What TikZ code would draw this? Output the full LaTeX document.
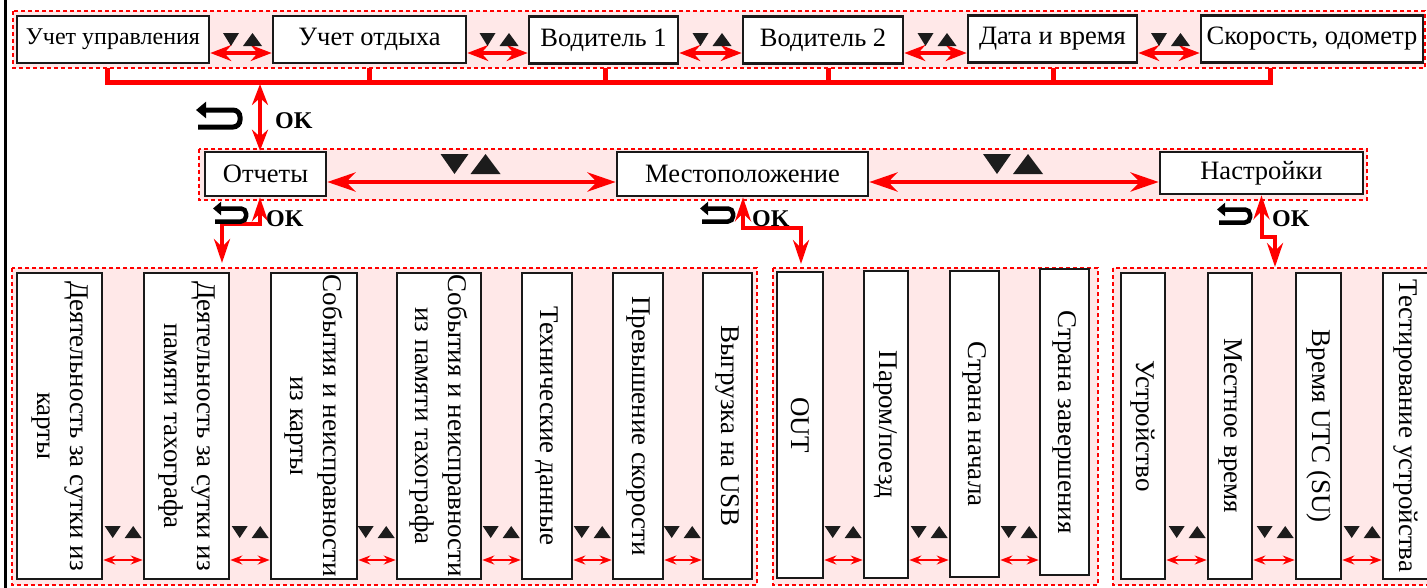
\documentclass[tikz,border=0pt]{standalone}
\usepackage{fontspec}
\setmainfont{Liberation Serif}
\usetikzlibrary{arrows.meta,calc}
\definecolor{grpfill}{RGB}{255,232,232}
\definecolor{tri}{RGB}{28,28,28}
\tikzset{
 grp/.style={draw=red, dash pattern=on 4pt off 3pt, line width=1.1pt, fill=grpfill},
 hbox/.style={draw=black!90, line width=2.6pt, fill=white, inner sep=0pt, font=\fontsize{26.5}{30}\selectfont},
 vbox/.style={draw=black!90, line width=2.6pt, fill=white, inner sep=0pt},
 vtext/.style={rotate=-90, align=center, inner sep=0pt, font=\fontsize{27}{33}\selectfont},
 oktext/.style={inner sep=0pt, font=\bfseries\fontsize{24}{28}\selectfont},
 bus/.style={draw=red, line width=5pt, line join=miter},
 arrT/.style={draw=red, line width=3.5pt, {Stealth[length=21pt,width=16pt,inset=7pt]}-{Stealth[length=21pt,width=16pt,inset=7pt]}},
 arrM/.style={draw=red, line width=4.5pt, {Stealth[length=28pt,width=19pt,inset=9pt]}-{Stealth[length=28pt,width=19pt,inset=9pt]}},
 arrZ/.style={draw=red, line width=4pt, line join=miter, {Stealth[length=24pt,width=16pt,inset=8pt]}-{Stealth[length=24pt,width=16pt,inset=8pt]}},
 arrS/.style={draw=red, line width=2pt, {Stealth[length=12pt,width=9pt,inset=4pt]}-{Stealth[length=12pt,width=9pt,inset=4pt]}},
 retbig/.pic={\draw[line width=5pt, rounded corners=7pt, -{Triangle[length=10pt,width=16pt]}] (-22,8.5) -- (20,8.5) -- (20,-8.5) -- (-24,-8.5);},
 retsmall/.pic={\draw[line width=4.5pt, rounded corners=5pt, -{Triangle[length=8pt,width=13pt]}] (-16,6.5) -- (15,6.5) -- (15,-6.5) -- (-18,-6.5);},
 tripT/.pic={\fill[tri] (-18,0) -- (-2,0) -- (-10,13) -- cycle; \fill[tri] (2,13) -- (21,13) -- (11.5,0) -- cycle;},
 tripM/.pic={\fill[tri] (-31,0) -- (-3,0) -- (-17,20) -- cycle; \fill[tri] (-1,20) -- (29,20) -- (14,0) -- cycle;},
 tripS/.pic={\fill[tri] (-18,0) -- (-2,0) -- (-10,12) -- cycle; \fill[tri] (2,12) -- (19,12) -- (10.5,0) -- cycle;},
}
\begin{document}
\begin{tikzpicture}[x=1pt,y=-1pt]
\useasboundingbox (0,0) rectangle (1427,587);
\clip (0,0) rectangle (1427,587);
\fill[white] (0,0) rectangle (1427,587);
\draw[line width=3.5pt] (5.5,-2) -- (5.5,590);

% group frames
\draw[grp] (13,11) rectangle (1425,68);
\draw[grp] (199,149) rectangle (1367,200);
\draw[grp] (12,268) rectangle (757,585);
\draw[grp] (773,268) rectangle (1098,585);
\draw[grp] (1113,268) rectangle (1440,585);

% top row
\node[hbox, minimum width=192, minimum height=47, font=\fontsize{24}{28}\selectfont] (t1) at (113,39.5) {Учет управления};
\node[hbox, minimum width=193, minimum height=47] (t2) at (369.5,39.5) {Учет отдыха};
\node[hbox, minimum width=149, minimum height=47] (t3) at (603.5,40) {Водитель 1};
\node[hbox, minimum width=160, minimum height=47] (t4) at (823,40) {Водитель 2};
\node[hbox, minimum width=169, minimum height=47] (t5) at (1052.5,39) {Дата и время};
\node[hbox, minimum width=222, minimum height=47] (t6) at (1312,39) {Скорость, одометр};

\foreach \a/\b in {t1/t2,t2/t3,t3/t4,t4/t5,t5/t6}{
  \draw[arrT] (\a.east |- 0,53) -- (\b.west |- 0,53);
  \pic at ($(\a.east |- 0,33)!0.5!(\b.west |- 0,33)$) {tripT};
}

% bus
\draw[bus] (107,68) -- (107,82) -- (1270,82) -- (1270,68);
\foreach \x in {369,605,828,1053}{ \draw[bus] (\x,68) -- (\x,82); }
\coordinate (busA) at (260,84);

% middle row
\node[hbox, minimum width=121, minimum height=44] (m1) at (265.5,174) {Отчеты};
\node[hbox, minimum width=251, minimum height=44] (m2) at (742.5,174) {Местоположение};
\node[hbox, minimum width=203, minimum height=42] (m3) at (1261.5,173) {Настройки};

\draw[arrT] (busA) -- ($(m1.north)+(-5.5,0)$);
\pic at (220,118.5) {retbig};
\node[oktext, anchor=west] (ok0) at (275,121) {OK};

\draw[arrM] (m1.east |- 0,182) -- (m2.west |- 0,182);
\draw[arrM] (m2.east |- 0,182) -- (m3.west |- 0,182);
\pic at ($(m1.east |- 0,154)!0.5!(m2.west |- 0,154)$) {tripM};
\pic at ($(m2.east |- 0,154)!0.5!(m3.west |- 0,154)$) {tripM};

% zigzag connectors
\coordinate (g1in) at (222,263);
\coordinate (g2in) at (801,264);
\coordinate (g3in) at (1275,267);
\draw[arrZ] ($(m1.south)+(-5.5,0)$) |- (222,224) -- (g1in);
\draw[arrZ] ($(m2.south)+(0.5,0)$) |- (801,228) -- (g2in);
\draw[arrZ] (m3.south) |- (1275,237) -- (g3in);
\pic at (231,215) {retsmall};
\node[oktext, anchor=west] (ok1) at (266,219) {OK};
\pic at (718,215) {retsmall};
\node[oktext, anchor=west] (ok2) at (752,219) {OK};
\pic at (1235,216) {retsmall};
\node[oktext, anchor=west] (ok3) at (1272,219) {OK};

% bottom group 1
\node[vbox, minimum width=85, minimum height=306] (b1) at (59.5,426) {};
\node[vbox, minimum width=85, minimum height=306] (b2) at (186.5,426) {};
\node[vbox, minimum width=86, minimum height=306] (b3) at (314,426) {};
\node[vbox, minimum width=84, minimum height=306] (b4) at (439,426) {};
\node[vbox, minimum width=50, minimum height=306] (b5) at (547,426) {};
\node[vbox, minimum width=50, minimum height=306] (b6) at (638,426) {};
\node[vbox, minimum width=49, minimum height=306] (b7) at (727.5,426) {};
\node[vtext] (b1t) at (b1) {Деятельность за сутки из\\карты};
\node[vtext] (b2t) at (b2) {Деятельность за сутки из\\памяти тахографа};
\node[vtext] (b3t) at (b3) {События и неисправности\\из карты};
\node[vtext] (b4t) at (b4) {События и неисправности\\из памяти тахографа};
\node[vtext] (b5t) at (b5) {Технические данные};
\node[vtext] (b6t) at (b6) {Превышение скорости};
\node[vtext] (b7t) at (b7) {Выгрузка на USB};

% bottom group 2
\node[vbox, minimum width=46, minimum height=306] (c1) at (800,425) {};
\node[vbox, minimum width=44, minimum height=307] (c2) at (886,424.5) {};
\node[vbox, minimum width=49, minimum height=306] (c3) at (974.5,424) {};
\node[vbox, minimum width=49, minimum height=306] (c4) at (1064.5,422) {};
\node[vtext] (c1t) at (c1) {OUT};
\node[vtext] (c2t) at (c2) {Паром/поезд};
\node[vtext] (c3t) at (c3) {Страна начала};
\node[vtext] (c4t) at (c4) {Страна завершения};

% bottom group 3
\node[vbox, minimum width=44, minimum height=306] (d1) at (1143,426) {};
\node[vbox, minimum width=44, minimum height=306] (d2) at (1230,426) {};
\node[vbox, minimum width=45, minimum height=306] (d3) at (1318.5,426) {};
\node[vbox, minimum width=45, minimum height=306] (d4) at (1405.5,426) {};
\node[vtext] (d1t) at (d1) {Устройство};
\node[vtext] (d2t) at (d2) {Местное время};
\node[vtext] (d3t) at (d3) {Время UTC (SU)};
\node[vtext] (d4t) at (d4) {Тестирование устройства};

\foreach \a/\b in {b1/b2,b2/b3,b3/b4,b4/b5,b5/b6,b6/b7,c1/c2,c2/c3,c3/c4,d1/d2,d2/d3,d3/d4}{
  \draw[arrS] (\a.east |- 0,560) -- (\b.west |- 0,560);
  \pic at ($(\b.west |- 0,526)+(-20,0)$) {tripS};
}
\end{tikzpicture}
\end{document}
